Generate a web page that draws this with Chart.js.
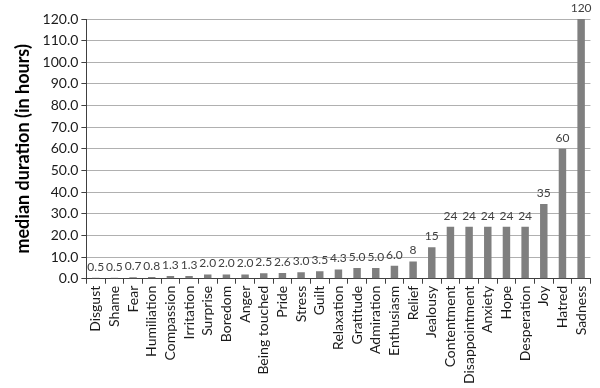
<!DOCTYPE html>
<html>
<head>
<meta charset="utf-8">
<script src="https://cdn.jsdelivr.net/npm/chart.js@4/dist/chart.umd.min.js"></script>
<style>
    html, body { margin: 0; padding: 0; background: #ffffff; }
    #wrap { width: 600px; height: 388px; position: relative; }
</style>
</head>
<body>
<div id="wrap"><canvas id="duracionChart"></canvas></div>
<script>
const emociones = [
    "Disgust", "Shame", "Fear", "Humiliation", "Compassion", "Irritation", "Surprise",
    "Boredom", "Anger", "Being touched", "Pride", "Stress", "Guilt", "Relaxation",
    "Gratitude", "Admiration", "Enthusiasm", "Relief", "Jealousy", "Contentment",
    "Disappointment", "Anxiety", "Hope", "Desperation", "Joy", "Hatred", "Sadness"
];

// Altura de cada barra (horas).
const duraciones = [
    0.5, 0.5, 0.7, 0.8, 1.3, 1.3, 2.0,
    2.0, 2.0, 2.5, 2.6, 3.0, 3.5, 4.3,
    5.0, 5.0, 6.0, 8, 14.5, 24,
    24, 24, 24, 24, 34.5, 60, 120
];

// Etiqueta impresa encima de cada barra.
const etiquetas = [
    "0.5", "0.5", "0.7", "0.8", "1.3", "1.3", "2.0",
    "2.0", "2.0", "2.5", "2.6", "3.0", "3.5", "4.3",
    "5.0", "5.0", "6.0", "8", "15", "24",
    "24", "24", "24", "24", "35", "60", "120"
];

const fuente = "Lato, 'Open Sans', sans-serif";

// Dibuja el valor sobre cada barra.
const etiquetasPlugin = {
    id: "etiquetasBarras",
    afterDatasetsDraw(chart) {
        const ctx = chart.ctx;
        const meta = chart.getDatasetMeta(0);
        ctx.save();
        ctx.font = `12px ${fuente}`;
        ctx.fillStyle = "#404040";
        ctx.textAlign = "center";
        ctx.textBaseline = "bottom";
        meta.data.forEach((bar, i) => {
            ctx.fillText(etiquetas[i], bar.x, bar.y - 5);
        });
        ctx.restore();
    }
};

new Chart(document.querySelector("#duracionChart"), {
    type: "bar",
    data: {
        labels: emociones,
        datasets: [{
            data: duraciones,
            backgroundColor: "#7f7f7f",
            categoryPercentage: 1,
            barPercentage: 0.4
        }]
    },
    options: {
        responsive: true,
        maintainAspectRatio: false,
        animation: false,
        layout: { padding: { top: 19, right: 4, left: 12, bottom: 2 } },
        plugins: {
            legend: { display: false },
            tooltip: { enabled: false }
        },
        scales: {
            x: {
                grid: {
                    offset: true,
                    drawOnChartArea: false,
                    drawTicks: true,
                    tickLength: 5,
                    color: "#404040"
                },
                border: { color: "#404040" },
                ticks: {
                    color: "#1a1a1a",
                    font: { family: fuente, size: 14 },
                    minRotation: 90,
                    maxRotation: 90,
                    autoSkip: false,
                    padding: 2
                }
            },
            y: {
                min: 0,
                max: 120,
                grid: {
                    color: "#b0b0b0",
                    tickLength: 5,
                    tickColor: "#404040"
                },
                border: { color: "#404040" },
                ticks: {
                    stepSize: 10,
                    color: "#1a1a1a",
                    font: { family: fuente, size: 14 },
                    padding: 3,
                    callback: (v) => Number(v).toFixed(1)
                },
                title: {
                    display: true,
                    text: "median duration (in hours)",
                    color: "#000000",
                    font: { family: fuente, size: 18, weight: "bold" },
                    padding: { top: 0, bottom: 6 }
                }
            }
        }
    },
    plugins: [etiquetasPlugin]
});
</script>
</body>
</html>
